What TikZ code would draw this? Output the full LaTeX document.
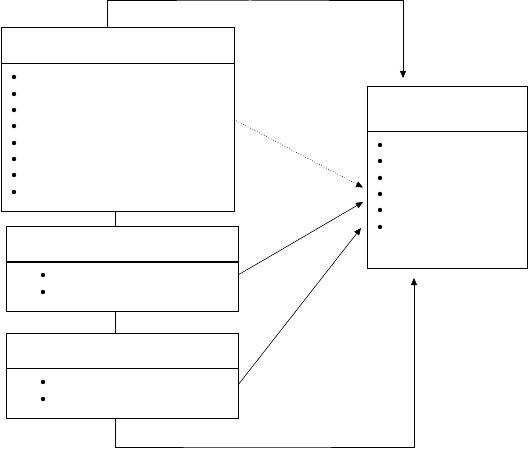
\documentclass[tikz,border=0pt]{standalone}
\usetikzlibrary{arrows.meta,calc}
\begin{document}
\begin{tikzpicture}[x=1pt,y=-1pt,line width=1pt,
  box/.style={draw,inner sep=0pt,outer sep=0pt,anchor=north west},
  arr/.style={-{Triangle[length=7pt,width=6pt]}},
  thin1/.style={line width=0.6pt},
  bul/.style={fill,radius=2.2}]
\useasboundingbox (0,0) rectangle (529,449);
% boxes
\node[box,minimum width=233pt,minimum height=183pt] (A) at (1,28) {};
\node[box,minimum width=232pt,minimum height=85pt] (B) at (6,226) {};
\node[box,minimum width=232pt,minimum height=85pt] (C) at (6,333) {};
\node[box,minimum width=160pt,minimum height=181pt] (D) at (367,87) {};
% dividers
\draw (A.west |- 0,64) -- (A.east |- 0,64);
\draw[line width=2pt] (B.west |- 0,262) -- (B.east |- 0,262);
\draw (C.west |- 0,368) -- (C.east |- 0,368);
\draw (D.west |- 0,132) -- (D.east |- 0,132);
% bullets
\foreach \y in {77,94,110,126,143,159,175,192} \fill (14,\y) circle[radius=2.2];
\foreach \y in {275,292} \fill (43,\y) circle[radius=2.2];
\foreach \y in {382,399} \fill (43,\y) circle[radius=2.2];
\foreach \y in {145,161,178,194,210,227} \fill (380,\y) circle[radius=2.2];
% vertical links
\draw ($(A.south west)+(114,0)$) -- ($(B.north west)+(109,0)$);
\draw ($(B.south west)+(109,0)$) -- ($(C.north west)+(109,0)$);
% top connector
\coordinate (topc) at (250,1);
\draw[arr] ($(A.north west)+(106,0)$) |- (topc) -| ($(D.north west)+(36,-9)$);
% bottom connector
\coordinate (botc) at (250,447);
\draw[arr] ($(C.south west)+(109,0)$) |- (botc) -| ($(D.south west)+(47,10)$);
% diagonal arrows
\draw[arr,thin1,dotted] (A.east) -- ($(D.west)+(-4,10)$);
\draw[arr,thin1] ($(B.east)+(0,6.5)$) -- ($(D.west)+(-4,24.5)$);
\draw[arr,thin1] ($(C.east)+(0,9.5)$) -- ($(D.west)+(-6,50.5)$);
\end{tikzpicture}
\end{document}
